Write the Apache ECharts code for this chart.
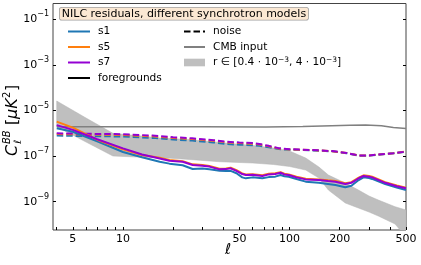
<!DOCTYPE html>
<html><head><meta charset="utf-8">
<script src="https://cdn.jsdelivr.net/npm/echarts@6/dist/echarts.min.js"></script>
<style>html,body{margin:0;padding:0;background:#fff}#c{width:421px;height:265px}</style>
</head><body><div id="c"></div>
<script>
// ---- data (C_ell^BB in muK^2) ----
const ellCmb = [4, 10, 30, 72, 120, 179, 230, 286, 356, 420, 500];
const cmbInput = [1.95e-6, 1.95e-6, 1.95e-6, 1.91e-6, 2.0e-6, 2.14e-6, 2.24e-6, 2.29e-6, 2.14e-6, 1.82e-6, 1.62e-6];

const ellNoise = [4, 6, 10, 15, 20, 26, 35, 42, 50, 60, 66, 75, 86, 100, 137, 180, 220, 260, 300, 340, 420, 500];
const noiseS1 = [7.94e-7, 7.59e-7, 7.24e-7, 6.31e-7, 5.37e-7, 4.79e-7, 3.98e-7, 3.39e-7, 3.16e-7, 3.02e-7, 2.82e-7, 2.45e-7, 2.04e-7, 1.91e-7, 1.78e-7, 1.62e-7, 1.35e-7, 1.05e-7, 1.05e-7, 1.15e-7, 1.32e-7, 1.55e-7];
const noiseS5 = [9.3e-7, 8.9e-7, 8.5e-7, 7.4e-7, 6.3e-7, 5.6e-7, 4.7e-7, 4.0e-7, 3.75e-7, 3.5e-7, 3.2e-7, 2.7e-7, 2.17e-7, 1.97e-7, 1.84e-7, 1.65e-7, 1.37e-7, 1.07e-7, 1.07e-7, 1.17e-7, 1.35e-7, 1.58e-7];
const noiseS7 = [1.0e-6, 9.55e-7, 9.12e-7, 7.94e-7, 6.76e-7, 6.03e-7, 5.01e-7, 4.27e-7, 3.98e-7, 3.72e-7, 3.39e-7, 2.82e-7, 2.24e-7, 2.0e-7, 1.86e-7, 1.66e-7, 1.38e-7, 1.07e-7, 1.07e-7, 1.17e-7, 1.35e-7, 1.58e-7];

const ellResid = [4, 5, 7, 10, 13, 16.6, 19, 22.8, 26.2, 30, 33, 38, 41.5, 44.3, 48, 52, 54.6, 60, 68.6, 75, 82, 88.3, 93, 98.9, 110, 125, 149.6, 170, 188.5, 216, 235, 260, 278, 300, 313, 375, 440, 500];
const residS1 = [1.66e-6, 1.17e-6, 4.47e-7, 1.51e-7, 8.91e-8, 5.68e-8, 4.68e-8, 3.98e-8, 2.72e-8, 2.88e-8, 2.63e-8, 2.29e-8, 2.22e-8, 2.24e-8, 1.78e-8, 1.17e-8, 1.06e-8, 1.17e-8, 1.06e-8, 1.20e-8, 1.26e-8, 1.48e-8, 1.32e-8, 1.25e-8, 1.0e-8, 7.59e-9, 6.81e-9, 6.03e-9, 5.40e-9, 4.29e-9, 5.01e-9, 8.91e-9, 1.17e-8, 1.10e-8, 1.0e-8, 5.97e-9, 4.17e-9, 3.26e-9];
const residS5 = [3.24e-6, 1.78e-6, 5.25e-7, 2.0e-7, 1.12e-7, 8.5e-8, 6.75e-8, 6.01e-8, 4.35e-8, 4.07e-8, 3.71e-8, 2.81e-8, 2.88e-8, 3.12e-8, 2.40e-8, 1.75e-8, 1.58e-8, 1.62e-8, 1.44e-8, 1.69e-8, 1.78e-8, 1.99e-8, 1.69e-8, 1.58e-8, 1.25e-8, 1.02e-8, 9.53e-9, 8.70e-9, 8.12e-9, 6.45e-9, 7.23e-9, 1.14e-8, 1.44e-8, 1.35e-8, 1.25e-8, 7.23e-9, 5.13e-9, 4.16e-9];
const residS7 = [2.29e-6, 1.41e-6, 5.50e-7, 2.19e-7, 1.17e-7, 7.94e-8, 6.31e-8, 5.62e-8, 4.07e-8, 3.80e-8, 3.47e-8, 2.63e-8, 2.69e-8, 2.92e-8, 2.24e-8, 1.64e-8, 1.48e-8, 1.51e-8, 1.35e-8, 1.58e-8, 1.66e-8, 1.86e-8, 1.58e-8, 1.48e-8, 1.17e-8, 9.55e-9, 8.91e-9, 8.13e-9, 7.59e-9, 6.03e-9, 6.76e-9, 1.07e-8, 1.35e-8, 1.26e-8, 1.17e-8, 6.76e-9, 4.79e-9, 3.89e-9];

const ellBand = [4, 6, 8.7, 12, 16.6, 25, 38, 60, 80, 100, 125, 150, 171, 216, 259, 300, 341, 430, 500];
const rUpper = [2.61e-5, 4.69e-6, 1.0e-6, 8.02e-7, 6.22e-7, 5.35e-7, 3.94e-7, 2.92e-7, 2.26e-7, 1.67e-7, 8.26e-8, 3.33e-8, 1.48e-8, 6.61e-9, 3.26e-9, 1.78e-9, 1.19e-9, 6.04e-10, 4.33e-10];
const rLower = [1.95e-6, 4.15e-7, 1.01e-7, 9.14e-8, 8.69e-8, 7.10e-8, 5.68e-8, 4.98e-8, 4.29e-8, 3.50e-8, 2.45e-8, 1.09e-8, 3.26e-9, 8.77e-10, 5.30e-10, 3.53e-10, 2.36e-10, 1.05e-10, 2.83e-11];

const xTickLabels = [5, 10, 50, 100, 200, 500];
const xMinorTicks = [4, 6, 7, 8, 9, 20, 30, 40, 60, 70, 80, 90, 300, 400];
const yTickExponents = [-1, -3, -5, -7, -9];
const xRange = [3.8, 500];
const yRange = [-10.24, -0.307]; // log10 limits

// ---- helpers ----
const L = Math.log10;
const pts = (xs, ys) => xs.map((l, i) => [L(l), L(ys[i])]);
const FONT = 'DejaVu Sans';
const C1 = '#1f77b4', C5 = '#ff7f0e', C7 = '#9400d3';

const chart = echarts.init(document.getElementById('c'), null, {renderer: 'canvas'});

const lineSeries = (name, xs, ys, color, dashed, width, z) => ({
  type: 'line', name, data: pts(xs, ys), showSymbol: false, symbol: 'none',
  lineStyle: {color, width, type: dashed ? [6.5, 3] : 'solid'},
  itemStyle: {color}, z, silent: true, clip: true
});

const rName = 'r ∈ [0.4·10⁻³, 4·10⁻³]';
const legendText = {fontFamily: FONT, fontSize: 10.6, color: '#000', lineHeight: 13, padding: [0, 0, 0, 3]};

const option = {
  animation: false,
  grid: {left: 53, right: 15, top: 3.5, bottom: 35, show: true, borderColor: '#444', borderWidth: 1, backgroundColor: 'transparent'},
  xAxis: [{
    type: 'value', min: L(xRange[0]), max: L(xRange[1]),
    axisLine: {show: false}, splitLine: {show: false},
    axisTick: {show: true, inside: true, length: 3, lineStyle: {color: '#000'},
      customValues: xTickLabels.concat(xMinorTicks).map(L)},
    axisLabel: {customValues: xTickLabels.map(L), formatter: v => String(Math.round(Math.pow(10, v))),
      color: '#000', fontFamily: FONT, fontSize: 11, margin: 4}
  }],
  yAxis: [{
    type: 'value', min: yRange[0], max: yRange[1],
    axisLine: {show: false}, splitLine: {show: false},
    axisTick: {show: true, inside: true, length: 3, lineStyle: {color: '#000'}, customValues: yTickExponents},
    axisLabel: {customValues: yTickExponents, margin: 4,
      formatter: v => '{b|10}{s|−' + Math.abs(Math.round(v)) + '}',
      rich: {b: {fontFamily: FONT, fontSize: 11, color: '#000', lineHeight: 18},
             s: {fontFamily: FONT, fontSize: 8, color: '#000', verticalAlign: 'top', lineHeight: 10}}}
  }, {
    type: 'value', min: yRange[0], max: yRange[1], position: 'right',
    axisLine: {show: false}, splitLine: {show: false}, axisLabel: {show: false},
    axisTick: {show: true, inside: true, length: 3, lineStyle: {color: '#000'}, customValues: yTickExponents}
  }],
  legend: [{
    left: 67, top: 25, padding: 0, orient: 'vertical', itemWidth: 22, itemHeight: 11, itemGap: 2.5,
    data: ['s1', 's5', 's7', 'foregrounds'], selectedMode: false,
    itemStyle: {opacity: 0},
    textStyle: legendText
  }, {
    left: 183, top: 25, padding: 0, orient: 'vertical', itemWidth: 21, itemHeight: 11, itemGap: 2.5,
    data: ['noise', 'CMB input', {name: rName, icon: 'path://M0,0 h22 v8 h-22 Z', itemStyle: {color: '#bfbfbf', opacity: 1}}],
    selectedMode: false, itemStyle: {opacity: 0},
    formatter: n => n === rName ? '{n|r ∈ [0.4 · 10}{s|−3}{n|, 4 · 10}{s|−3}{n|]}' : n,
    textStyle: Object.assign({}, legendText, {
      rich: {n: {fontFamily: FONT, fontSize: 10.6, color: '#000', lineHeight: 13},
             s: {fontFamily: FONT, fontSize: 7.5, color: '#000', verticalAlign: 'top', lineHeight: 8}}})
  }],
  series: [
    lineSeries('s1', ellResid, residS1, C1, false, 2, 6),
    lineSeries('s5', ellResid, residS5, C5, false, 2, 7),
    lineSeries('s7', ellResid, residS7, C7, false, 2, 8),
    {
      type: 'custom', name: rName, z: 1, silent: true,
      itemStyle: {color: '#bfbfbf'},
      data: ellBand.map((l, i) => [L(l), L(rLower[i]), L(rUpper[i])]),
      renderItem: (params, api) => {
        if (params.dataIndex !== 0) return null;
        const up = ellBand.map((l, i) => api.coord([L(l), L(rUpper[i])]));
        const lo = ellBand.map((l, i) => api.coord([L(l), L(rLower[i])])).reverse();
        const cs = params.coordSys;
        return {type: 'polygon', shape: {points: up.concat(lo)},
          style: {fill: '#bfbfbf', stroke: '#b5b5b5', lineWidth: 0.5},
          clipPath: {type: 'rect', shape: {x: cs.x, y: cs.y, width: cs.width, height: cs.height}}};
      }
    },
    lineSeries('CMB input', ellCmb, cmbInput, '#808080', false, 1.5, 2),
    lineSeries('s1 noise', ellNoise, noiseS1, C1, true, 2, 3),
    lineSeries('s5 noise', ellNoise, noiseS5, C5, true, 2, 4),
    lineSeries('s7 noise', ellNoise, noiseS7, C7, true, 2, 5),
    lineSeries('foregrounds', [], [], '#000', false, 2, 1),
    lineSeries('noise', [], [], '#000', true, 2, 1)
  ],
  graphic: [
    {type: 'text', left: 59, top: 7, z: 100,
     style: {text: 'NILC residuals, different synchrotron models', fontFamily: FONT, fontSize: 11, fill: '#000',
       backgroundColor: '#fbe8d3', borderColor: '#a0a0a0', borderWidth: 0.8, borderRadius: 2, padding: [1, 2, 0, 2]}},
    {type: 'text', x: 228, y: 250, z: 100,
     style: {text: 'ℓ', fontFamily: FONT, fontSize: 15, fontStyle: 'italic', fill: '#000', align: 'center', verticalAlign: 'middle'}},
    {type: 'group', x: 13, y: 156, rotation: Math.PI / 2, z: 100, children: [
      {type: 'text', x: 0, y: 0, style: {text: 'C', fontFamily: FONT, fontSize: 16, fontStyle: 'italic', fill: '#000', verticalAlign: 'middle'}},
      {type: 'text', x: 12, y: -6, style: {text: 'BB', fontFamily: FONT, fontSize: 10, fontStyle: 'italic', fill: '#000', verticalAlign: 'middle'}},
      {type: 'text', x: 12, y: 5, style: {text: 'ℓ', fontFamily: FONT, fontSize: 10, fontStyle: 'italic', fill: '#000', verticalAlign: 'middle'}},
      {type: 'text', x: 31, y: 0, style: {text: '[', fontFamily: FONT, fontSize: 16, fill: '#000', verticalAlign: 'middle'}},
      {type: 'text', x: 37, y: 0, style: {text: 'μK', fontFamily: FONT, fontSize: 16, fontStyle: 'italic', fill: '#000', verticalAlign: 'middle'}},
      {type: 'text', x: 58, y: -6, style: {text: '2', fontFamily: FONT, fontSize: 10, fill: '#000', verticalAlign: 'middle'}},
      {type: 'text', x: 65, y: 0, style: {text: ']', fontFamily: FONT, fontSize: 16, fill: '#000', verticalAlign: 'middle'}}
    ]}
  ]
};
chart.setOption(option);
</script>
</body></html>
